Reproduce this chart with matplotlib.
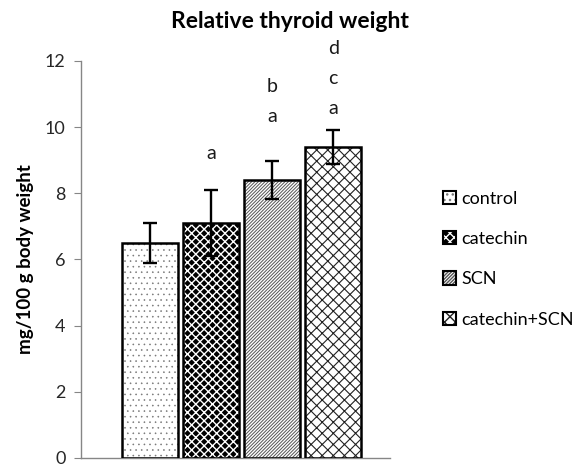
import matplotlib
matplotlib.use("Agg")
import matplotlib.pyplot as plt

groups = ["control", "catechin", "SCN", "catechin+SCN"]
means = [6.5, 7.1, 8.4, 9.4]
errors = [0.6, 1.0, 0.57, 0.5]
letters = [[], ["a"], ["a", "b"], ["a", "c", "d"]]
y_ticks = [0, 2, 4, 6, 8, 10, 12]

plt.rcParams["font.family"] = ["Lato", "DejaVu Sans"]

fig = plt.figure(figsize=(5.8, 4.67), dpi=100)
ax = fig.add_axes([0.1397, 0.0193, 0.5327, 0.8501])

# fill / hatch styles per group
styles = [
    dict(facecolor="white", edgecolor="#777777", hatch="...", hlw=0.4),
    dict(facecolor="black", edgecolor="white", hatch="xxxx", hlw=1.0),
    dict(facecolor="white", edgecolor="#555555", hatch="/" * 10, hlw=0.7),
    dict(facecolor="white", edgecolor="#222222", hatch="xxx", hlw=0.8),
]

x = list(range(len(groups)))
width = 0.92
handles = []
for i, (m, st) in enumerate(zip(means, styles)):
    with plt.rc_context({"hatch.linewidth": st["hlw"]}):
        ax.bar(x[i], m, width=width, color=st["facecolor"],
               edgecolor=st["edgecolor"], hatch=st["hatch"], linewidth=0,
               zorder=2)
        fill = plt.Rectangle((0, 0), 1, 1, facecolor=st["facecolor"],
                             edgecolor=st["edgecolor"], hatch=st["hatch"],
                             linewidth=0)
    ax.bar(x[i], m, width=width, fill=False, edgecolor="black",
           linewidth=1.8, zorder=3)
    outline = plt.Rectangle((0, 0), 1, 1, fill=False, edgecolor="black",
                            linewidth=1.5)
    handles.append((fill, outline))

ax.errorbar(x, means, yerr=errors, fmt="none", ecolor="black",
            elinewidth=1.7, capsize=5, capthick=1.7, zorder=4)

# significance letters, stacked above each bar
base_gap = [1.1, 1.1, 1.36, 0.65]
for i, labs in enumerate(letters):
    y0 = means[i] + errors[i] + base_gap[i]
    for k, lab in enumerate(labs):
        ax.text(x[i], y0 + k * 0.91, lab, ha="center", va="center",
                fontsize=14, color="#1a1a1a", zorder=5)

ax.set_xlim(-1.13, 3.93)
ax.set_ylim(0, 12)
ax.set_yticks(y_ticks)
ax.set_xticks([])
ax.tick_params(axis="y", direction="out", length=5, color="#868686",
               labelsize=13, labelcolor="#262626", pad=6)
for side in ["top", "right"]:
    ax.spines[side].set_visible(False)
for side in ["left", "bottom"]:
    ax.spines[side].set_color("#868686")
    ax.spines[side].set_linewidth(1.0)

ax.set_ylabel("mg/100 g body weight", fontsize=13.5, fontweight="bold",
              labelpad=8)
fig.text(0.5, 0.955, "Relative thyroid weight", ha="center", va="center",
         fontsize=16.5, fontweight="bold")

fig.legend(handles, groups, loc="center left",
           bbox_to_anchor=(0.735, 0.445), frameon=False, fontsize=13,
           handlelength=0.75, handleheight=0.75, handletextpad=0.3,
           labelspacing=1.35)

fig.savefig("out.png", dpi=100)
